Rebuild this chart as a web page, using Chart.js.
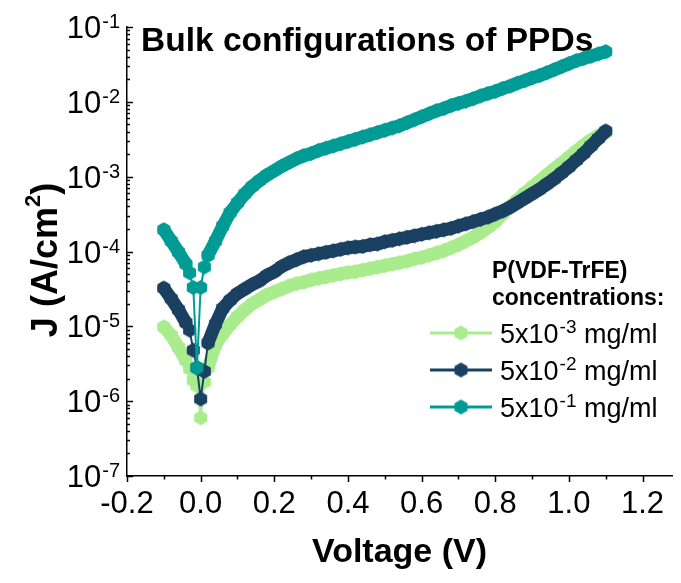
<!DOCTYPE html>
<html>
<head>
<meta charset="utf-8">
<script src="https://cdn.jsdelivr.net/npm/chart.js@4.4.0/dist/chart.umd.min.js"></script>
<style>
html, body { margin: 0; padding: 0; background: #fff; }
</style>
</head>
<body>
<canvas id="ivChart" width="681" height="583"></canvas>
<script>
// bias voltage (V), denser around the dark-current dip
const voltage = [-0.10, -0.08, -0.06, -0.04, -0.03, -0.02, -0.01, 0.00, 0.01,
  0.02, 0.04, 0.06, 0.08, 0.10, 0.12, 0.14, 0.16, 0.18, 0.20,
  0.22, 0.24, 0.26, 0.28, 0.30, 0.32, 0.34, 0.36, 0.38, 0.40,
  0.42, 0.44, 0.46, 0.48, 0.50, 0.52, 0.54, 0.56, 0.58, 0.60,
  0.62, 0.64, 0.66, 0.68, 0.70, 0.72, 0.74, 0.76, 0.78, 0.80,
  0.82, 0.84, 0.86, 0.88, 0.90, 0.92, 0.94, 0.96, 0.98, 1.00,
  1.02, 1.04, 1.06, 1.08, 1.10];

// J (A/cm2) for 5x10^-3 mg/ml
const jLow = [9.8e-6, 7.6e-6, 5.2e-6, 3.5e-6, 2.7e-6, 1.9e-6, 1.6e-6, 6.0e-7, 1.8e-6,
  2.8e-6, 5.6e-6, 7.9e-6, 1.05e-5, 1.35e-5, 1.66e-5, 2.00e-5, 2.29e-5, 2.63e-5, 2.88e-5,
  3.16e-5, 3.47e-5, 3.72e-5, 3.89e-5, 4.17e-5, 4.37e-5, 4.57e-5, 4.79e-5, 5.01e-5, 5.25e-5,
  5.37e-5, 5.62e-5, 5.89e-5, 6.17e-5, 6.46e-5, 6.76e-5, 7.08e-5, 7.41e-5, 7.94e-5, 8.32e-5,
  8.91e-5, 9.55e-5, 1.02e-4, 1.12e-4, 1.23e-4, 1.38e-4, 1.55e-4, 1.78e-4, 2.09e-4, 2.51e-4,
  3.16e-4, 3.98e-4, 4.90e-4, 6.03e-4, 7.24e-4, 8.71e-4, 1.05e-3, 1.26e-3, 1.51e-3, 1.82e-3,
  2.19e-3, 2.63e-3, 3.09e-3, 3.55e-3, 3.89e-3];

// J (A/cm2) for 5x10^-2 mg/ml
const jMid = [3.24e-5, 2.34e-5, 1.66e-5, 1.12e-5, 8.9e-6, 4.8e-6, 2.8e-6, 1.07e-6, 2.5e-6,
  6.0e-6, 1.07e-5, 1.74e-5, 2.24e-5, 2.75e-5, 3.16e-5, 3.63e-5, 4.07e-5, 4.79e-5, 5.37e-5,
  6.31e-5, 7.08e-5, 7.76e-5, 8.51e-5, 8.91e-5, 9.33e-5, 9.77e-5, 1.02e-4, 1.07e-4, 1.12e-4,
  1.15e-4, 1.17e-4, 1.23e-4, 1.26e-4, 1.35e-4, 1.41e-4, 1.48e-4, 1.55e-4, 1.62e-4, 1.70e-4,
  1.78e-4, 1.86e-4, 1.95e-4, 2.04e-4, 2.19e-4, 2.34e-4, 2.51e-4, 2.69e-4, 2.88e-4, 3.16e-4,
  3.47e-4, 3.89e-4, 4.47e-4, 5.13e-4, 5.89e-4, 6.76e-4, 7.94e-4, 9.33e-4, 1.12e-3, 1.35e-3,
  1.66e-3, 2.04e-3, 2.57e-3, 3.24e-3, 4.07e-3];

// J (A/cm2) for 5x10^-1 mg/ml
const jHigh = [1.95e-4, 1.38e-4, 9.8e-5, 6.8e-5, 5.2e-5, 3.3e-5, 2.8e-6, 3.3e-5, 6.2e-5,
  8.9e-5, 1.38e-4, 2.19e-4, 3.31e-4, 4.47e-4, 5.89e-4, 7.41e-4, 8.91e-4, 1.05e-3, 1.20e-3,
  1.38e-3, 1.55e-3, 1.74e-3, 1.91e-3, 2.04e-3, 2.24e-3, 2.40e-3, 2.57e-3, 2.75e-3, 2.95e-3,
  3.16e-3, 3.39e-3, 3.63e-3, 3.89e-3, 4.17e-3, 4.47e-3, 4.79e-3, 5.25e-3, 5.75e-3, 6.31e-3,
  6.92e-3, 7.59e-3, 8.13e-3, 8.91e-3, 9.55e-3, 1.02e-2, 1.10e-2, 1.20e-2, 1.29e-2, 1.38e-2,
  1.51e-2, 1.62e-2, 1.78e-2, 1.91e-2, 2.09e-2, 2.24e-2, 2.45e-2, 2.69e-2, 2.95e-2, 3.24e-2,
  3.55e-2, 3.80e-2, 4.07e-2, 4.37e-2, 4.68e-2];

const seriesExp = ['-3', '-2', '-1'];
const seriesColors = ['#a9ec8d', '#1a4062', '#009b95'];
const xTicks = [-0.2, 0.0, 0.2, 0.4, 0.6, 0.8, 1.0, 1.2];
const yExps = [-1, -2, -3, -4, -5, -6, -7];

const FONT = "'Liberation Sans', Arial, sans-serif";
Chart.defaults.font.family = FONT;

// hexagon symbol like the Origin plot
function hexMarker(color, r) {
    const size = Math.ceil(r * 2) + 2;
    const cv = document.createElement('canvas');
    cv.width = size;
    cv.height = size;
    const g = cv.getContext('2d');
    g.translate(size / 2, size / 2);
    g.beginPath();
    for (let i = 0; i < 6; i++) {
        const a = Math.PI / 2 + i * Math.PI / 3;
        g.lineTo(r * Math.cos(a), r * Math.sin(a));
    }
    g.closePath();
    g.fillStyle = color;
    g.fill();
    return cv;
}

const markers = seriesColors.map(c => hexMarker(c, 7.5));
const allJ = [jLow, jMid, jHigh];

const datasets = allJ.map((arr, i) => ({
    label: '5x10' + seriesExp[i] + ' mg/ml',
    data: voltage.map((v, k) => ({ x: v, y: arr[k] })),
    borderColor: seriesColors[i],
    backgroundColor: seriesColors[i],
    borderWidth: 2,
    borderJoinStyle: 'round',
    borderCapStyle: 'round',
    // the symbols overlap into a band where the sweep is dense,
    // only the jumps through the dip show the thin connector
    segment: {
        borderWidth: c => (c.p1.parsed.x - c.p0.parsed.x > 0.015 ? 13 : 2)
    },
    pointStyle: markers[i],
    pointRadius: 7,
    tension: 0,
    order: 3 - i
}));

// ticks, labels with superscripts, title and legend
const decor = {
    id: 'decor',
    afterDraw(chart) {
        const ctx = chart.ctx;
        const xs = chart.scales.x;
        const ys = chart.scales.y;
        ctx.save();
        ctx.strokeStyle = '#000';
        ctx.lineWidth = 1.5;

        // x ticks (major + minor), pointing down
        for (let i = 0; i <= 14; i++) {
            const v = -0.2 + i * 0.1;
            const px = Math.round(xs.getPixelForValue(v)) + 0.5;
            ctx.beginPath();
            ctx.moveTo(px, xs.top);
            ctx.lineTo(px, xs.top + (i % 2 === 0 ? 6 : 3.5));
            ctx.stroke();
        }
        // y ticks, pointing into the plot
        yExps.forEach(k => {
            const top = k === -1 ? 1 : 9;
            for (let m = 1; m <= top; m++) {
                const py = Math.round(ys.getPixelForValue(m * Math.pow(10, k))) + 0.5;
                ctx.beginPath();
                ctx.moveTo(ys.right, py);
                ctx.lineTo(ys.right + (m === 1 ? 6 : 3), py);
                ctx.stroke();
            }
        });

        ctx.fillStyle = '#000';
        ctx.textBaseline = 'alphabetic';

        // y tick labels 10^k
        yExps.forEach(k => {
            const py = ys.getPixelForValue(Math.pow(10, k));
            ctx.font = '20px ' + FONT;
            const sup = String(k);
            const sw = ctx.measureText(sup).width;
            const xr = ys.right - 7;
            ctx.textAlign = 'left';
            ctx.fillText(sup, xr - sw, py + 1);
            ctx.font = '31px ' + FONT;
            ctx.textAlign = 'right';
            ctx.fillText('10', xr - sw - 1, py + 11);
        });

        // y axis title J (A/cm2)
        ctx.save();
        ctx.translate(45, 260);
        ctx.rotate(-Math.PI / 2);
        const p1 = 'J (A/cm', p3 = ')';
        ctx.font = 'bold 36px ' + FONT;
        const w1 = ctx.measureText(p1).width;
        const w3 = ctx.measureText(p3).width;
        ctx.font = 'bold 22px ' + FONT;
        const w2 = ctx.measureText('2').width;
        const total = w1 + w2 + w3;
        ctx.textAlign = 'left';
        ctx.font = 'bold 36px ' + FONT;
        ctx.fillText(p1, -total / 2, 12);
        ctx.font = 'bold 22px ' + FONT;
        ctx.fillText('2', -total / 2 + w1, -5);
        ctx.font = 'bold 36px ' + FONT;
        ctx.fillText(p3, -total / 2 + w1 + w2, 12);
        ctx.restore();

        // plot title
        ctx.textAlign = 'left';
        ctx.font = 'bold 33.5px ' + FONT;
        ctx.fillText('Bulk configurations of PPDs', 141, 51);

        // legend
        ctx.font = 'bold 23px ' + FONT;
        ctx.fillText('P(VDF-TrFE)', 492, 278);
        ctx.fillText('concentrations:', 492, 305);
        const rowY = [333, 370, 407];
        seriesExp.forEach((e, i) => {
            const y = rowY[i];
            ctx.strokeStyle = seriesColors[i];
            ctx.lineWidth = 3;
            ctx.beginPath();
            ctx.moveTo(430, y);
            ctx.lineTo(492, y);
            ctx.stroke();
            ctx.drawImage(markers[i], 461 - markers[i].width / 2, y - markers[i].height / 2);
            ctx.fillStyle = '#000';
            ctx.font = '27px ' + FONT;
            ctx.fillText('5x10', 500, y + 10);
            let x = 500 + ctx.measureText('5x10').width + 1;
            ctx.font = '19px ' + FONT;
            ctx.fillText(e, x, y);
            x += ctx.measureText(e).width;
            ctx.font = '27px ' + FONT;
            ctx.fillText(' mg/ml', x, y + 10);
        });
        ctx.restore();
    }
};

new Chart(document.getElementById('ivChart'), {
    type: 'line',
    data: { datasets: datasets },
    options: {
        responsive: false,
        animation: false,
        devicePixelRatio: 1,
        layout: { padding: { top: 27, right: 0, bottom: 0, left: 0 } },
        plugins: {
            legend: { display: false },
            tooltip: { enabled: false }
        },
        scales: {
            x: {
                type: 'linear',
                min: -0.2,
                max: 1.28,
                afterBuildTicks: s => { s.ticks = xTicks.map(v => ({ value: v })); },
                afterFit: s => { s.height = 107; },
                grid: { display: false, drawTicks: false },
                border: { display: true, color: '#000', width: 1.5 },
                ticks: {
                    color: '#000',
                    font: { size: 31 },
                    padding: 10,
                    maxRotation: 0,
                    autoSkip: false,
                    callback: v => v.toFixed(1)
                },
                title: {
                    display: true,
                    text: 'Voltage (V)',
                    color: '#000',
                    font: { size: 34, weight: 'bold' },
                    padding: { top: 0, bottom: 10 }
                }
            },
            y: {
                type: 'logarithmic',
                min: 1e-7,
                max: 1e-1,
                afterBuildTicks: s => { s.ticks = yExps.map(k => ({ value: Math.pow(10, k) })); },
                afterFit: s => { s.width = 127; },
                grid: { display: false, drawTicks: false },
                border: { display: true, color: '#000', width: 1.5 },
                ticks: { display: false }
            }
        }
    },
    plugins: [decor]
});
</script>
</body>
</html>
